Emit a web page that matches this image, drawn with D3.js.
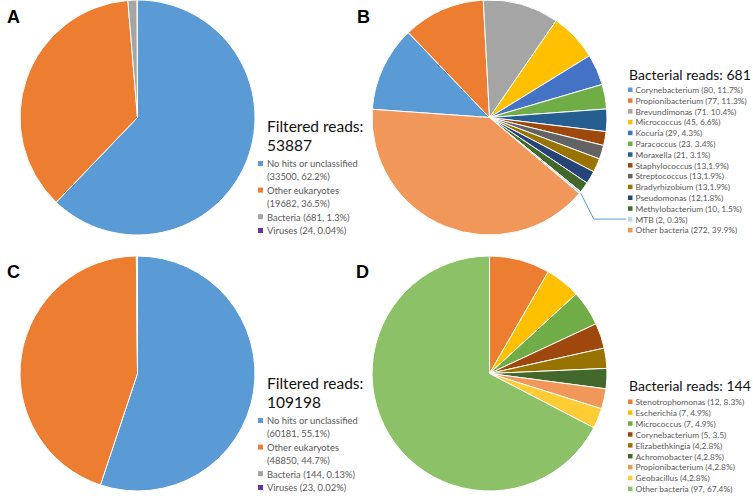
<!DOCTYPE html>
<html>
<head>
<meta charset="utf-8">
<script src="https://cdn.jsdelivr.net/npm/d3@7"></script>
<style>
  html, body { margin: 0; padding: 0; background: #fff; }
  svg { display: block; }
</style>
</head>
<body>
<svg id="chart" width="753" height="496"></svg>
<script>
// ---------- Data ----------
// Panels A and C: all filtered reads
const readCategories = ["No hits or unclassified", "Other eukaryotes", "Bacteria", "Viruses"];
const readColors = ["#5B9BD5", "#ED7D31", "#A5A5A5", "#7030A0"];
const readsA = [33500, 19682, 681, 24];
const readsC = [60181, 48850, 144, 23];
const totalA = "53887";
const totalC = "109198";
const legendA = [["No hits or unclassified", "(33500, 62.2%)"], ["Other eukaryotes", "(19682, 36.5%)"], ["Bacteria (681, 1.3%)"], ["Viruses (24, 0.04%)"]];
const legendC = [["No hits or unclassified", "(60181, 55.1%)"], ["Other eukaryotes", "(48850, 44.7%)"], ["Bacteria (144, 0.13%)"], ["Viruses (23, 0.02%)"]];

// Panel B: bacterial reads (681)
const generaB = ["Corynebacterium", "Propionibacterium", "Brevundimonas", "Micrococcus", "Kocuria", "Paracoccus", "Moraxella", "Staphylococcus", "Streptococcus", "Bradyrhizobium", "Pseudomonas", "Methylobacterium", "MTB", "Other bacteria"];
const countsB = [80, 77, 71, 45, 29, 23, 21, 13, 13, 13, 12, 10, 2, 272];
const colorsB = ["#5B9BD5", "#ED7D31", "#A5A5A5", "#FFC000", "#4472C4", "#70AD47", "#255E91", "#9E480E", "#636363", "#997300", "#264478", "#43682B", "#BDD7EE", "#F1975A"];
const legendB = ["Corynebacterium (80, 11.7%)", "Propionibacterium (77, 11.3%)", "Brevundimonas (71. 10.4%)", "Micrococcus (45, 6.6%)", "Kocuria (29, 4.3%)", "Paracoccus (23. 3.4%)", "Moraxella (21, 3.1%)", "Staphylococcus (13,1.9%)", "Streptococcus (13,1.9%)", "Bradyrhizobium (13,1.9%)", "Pseudomonas (12,1.8%)", "Methylobacterium (10, 1.5%)", "MTB (2, 0.3%)", "Other bacteria (272, 39.9%)"];
const totalB = "681";

// Panel D: bacterial reads (144)
const generaD = ["Stenotrophomonas", "Escherichia", "Micrococcus", "Corynebacterium", "Elizabethkingia", "Achromobacter", "Propionibacterium", "Geobacillus", "Other bacteria"];
const countsD = [12, 7, 7, 5, 4, 4, 4, 4, 97];
const colorsD = ["#ED7D31", "#FFC000", "#70AD47", "#9E480E", "#997300", "#43682B", "#F1975A", "#FFCD33", "#8CC168"];
const legendD = ["Stenotrophomonas (12, 8.3%)", "Escherichia (7, 4.9%)", "Micrococcus (7, 4.9%)", "Corynebacterium (5, 3.5)", "Elizabethkingia (4,2.8%)", "Achromobacter (4,2.8%)", "Propionibacterium (4,2.8%)", "Geobacillus (4,2.8%)", "Other bacteria (97, 67.4%)"];
const totalD = "144";

const panelLetters = ["A", "B", "C", "D"];

// ---------- Drawing ----------
const svg = d3.select("#chart");
const FONT = "Lato, 'Open Sans', sans-serif";
const R = 117.5;
const deg = Math.PI / 180;
const arc = d3.arc().innerRadius(0).outerRadius(R);

function drawPie(cx, cy, values, colors, startDeg) {
  const pie = d3.pie().sort(null).value(d => d)
    .startAngle(startDeg * deg).endAngle((startDeg + 360) * deg);
  const g = svg.append("g").attr("transform", `translate(${cx},${cy})`);
  const arcs = pie(values);
  g.selectAll("path").data(arcs).join("path")
    .attr("d", arc)
    .attr("fill", (d, i) => colors[i])
    .attr("stroke", "#fff")
    .attr("stroke-width", 1);
  return arcs;
}

function drawReadsLegend(x, y0, total, items) {
  const g = svg.append("g");
  g.append("text").attr("x", x).attr("y", y0)
    .attr("font-family", FONT).attr("font-size", 15.5).attr("fill", "#111")
    .text("Filtered reads:");
  g.append("text").attr("x", x).attr("y", y0 + 19)
    .attr("font-family", FONT).attr("font-size", 15.5).attr("fill", "#111")
    .text(total);
  let y = y0 + 32;
  items.forEach((lines, i) => {
    g.append("rect").attr("x", x - 9).attr("y", y - 3).attr("width", 5).attr("height", 5)
      .attr("fill", readColors[i]);
    lines.forEach((ln, j) => {
      g.append("text").attr("x", x).attr("y", y + j * 12.8 + 3.4)
        .attr("font-family", FONT).attr("font-size", 9.4).attr("fill", "#595959")
        .text(ln);
    });
    y += lines.length * 12.8 + 1;
  });
}

function drawBactLegend(x, yTitle, total, labels, colors, y0, step) {
  const g = svg.append("g");
  g.append("text").attr("x", x - 1).attr("y", yTitle)
    .attr("font-family", FONT).attr("font-size", 14).attr("fill", "#111")
    .text("Bacterial reads: " + total);
  labels.forEach((lb, i) => {
    const y = y0 + i * step;
    g.append("rect").attr("x", x - 2).attr("y", y - 2.5).attr("width", 4.5).attr("height", 4.5)
      .attr("fill", colors[i]);
    g.append("text").attr("x", x + 5.5).attr("y", y + 3)
      .attr("font-family", FONT).attr("font-size", 8.4).attr("fill", "#595959")
      .text(lb);
  });
}

// Panel A
drawPie(137.5, 117.5, readsA, readColors, 0);
drawReadsLegend(267, 132, totalA, legendA);

// Panel B
const arcsB = drawPie(489.5, 117.5, countsB, colorsB, -86);
const stepB = 10.8, y0B = 90;
drawBactLegend(630, 80, totalB, legendB, colorsB, y0B, stepB);
// leader line for MTB
{
  const idx = generaB.indexOf("MTB");
  const a = (arcsB[idx].startAngle + arcsB[idx].endAngle) / 2;
  const px = 489.5 + (R + 1) * Math.sin(a);
  const py = 117.5 - (R + 1) * Math.cos(a);
  const ly = y0B + idx * stepB - 0.5;
  svg.append("polyline")
    .attr("points", `${px},${py} ${px + 13},${ly} ${626},${ly}`)
    .attr("fill", "none").attr("stroke", "#5B9BD5").attr("stroke-width", 1);
}

// Panel C
drawPie(137.5, 373.5, readsC, readColors, 0);
drawReadsLegend(267, 389, totalC, legendC);

// Panel D
drawPie(489.5, 373.5, countsD, colorsD, 0);
drawBactLegend(630, 391, totalD, legendD, colorsD, 402, 10.9);

// Panel letters
const letterPos = [[7, 23], [357, 23], [7, 278], [356, 278]];
panelLetters.forEach((t, i) => {
  svg.append("text").attr("x", letterPos[i][0]).attr("y", letterPos[i][1])
    .attr("font-family", "'Liberation Sans', Arial, sans-serif").attr("font-weight", "bold")
    .attr("font-size", 18).attr("fill", "#000").text(t);
});
</script>
</body>
</html>
